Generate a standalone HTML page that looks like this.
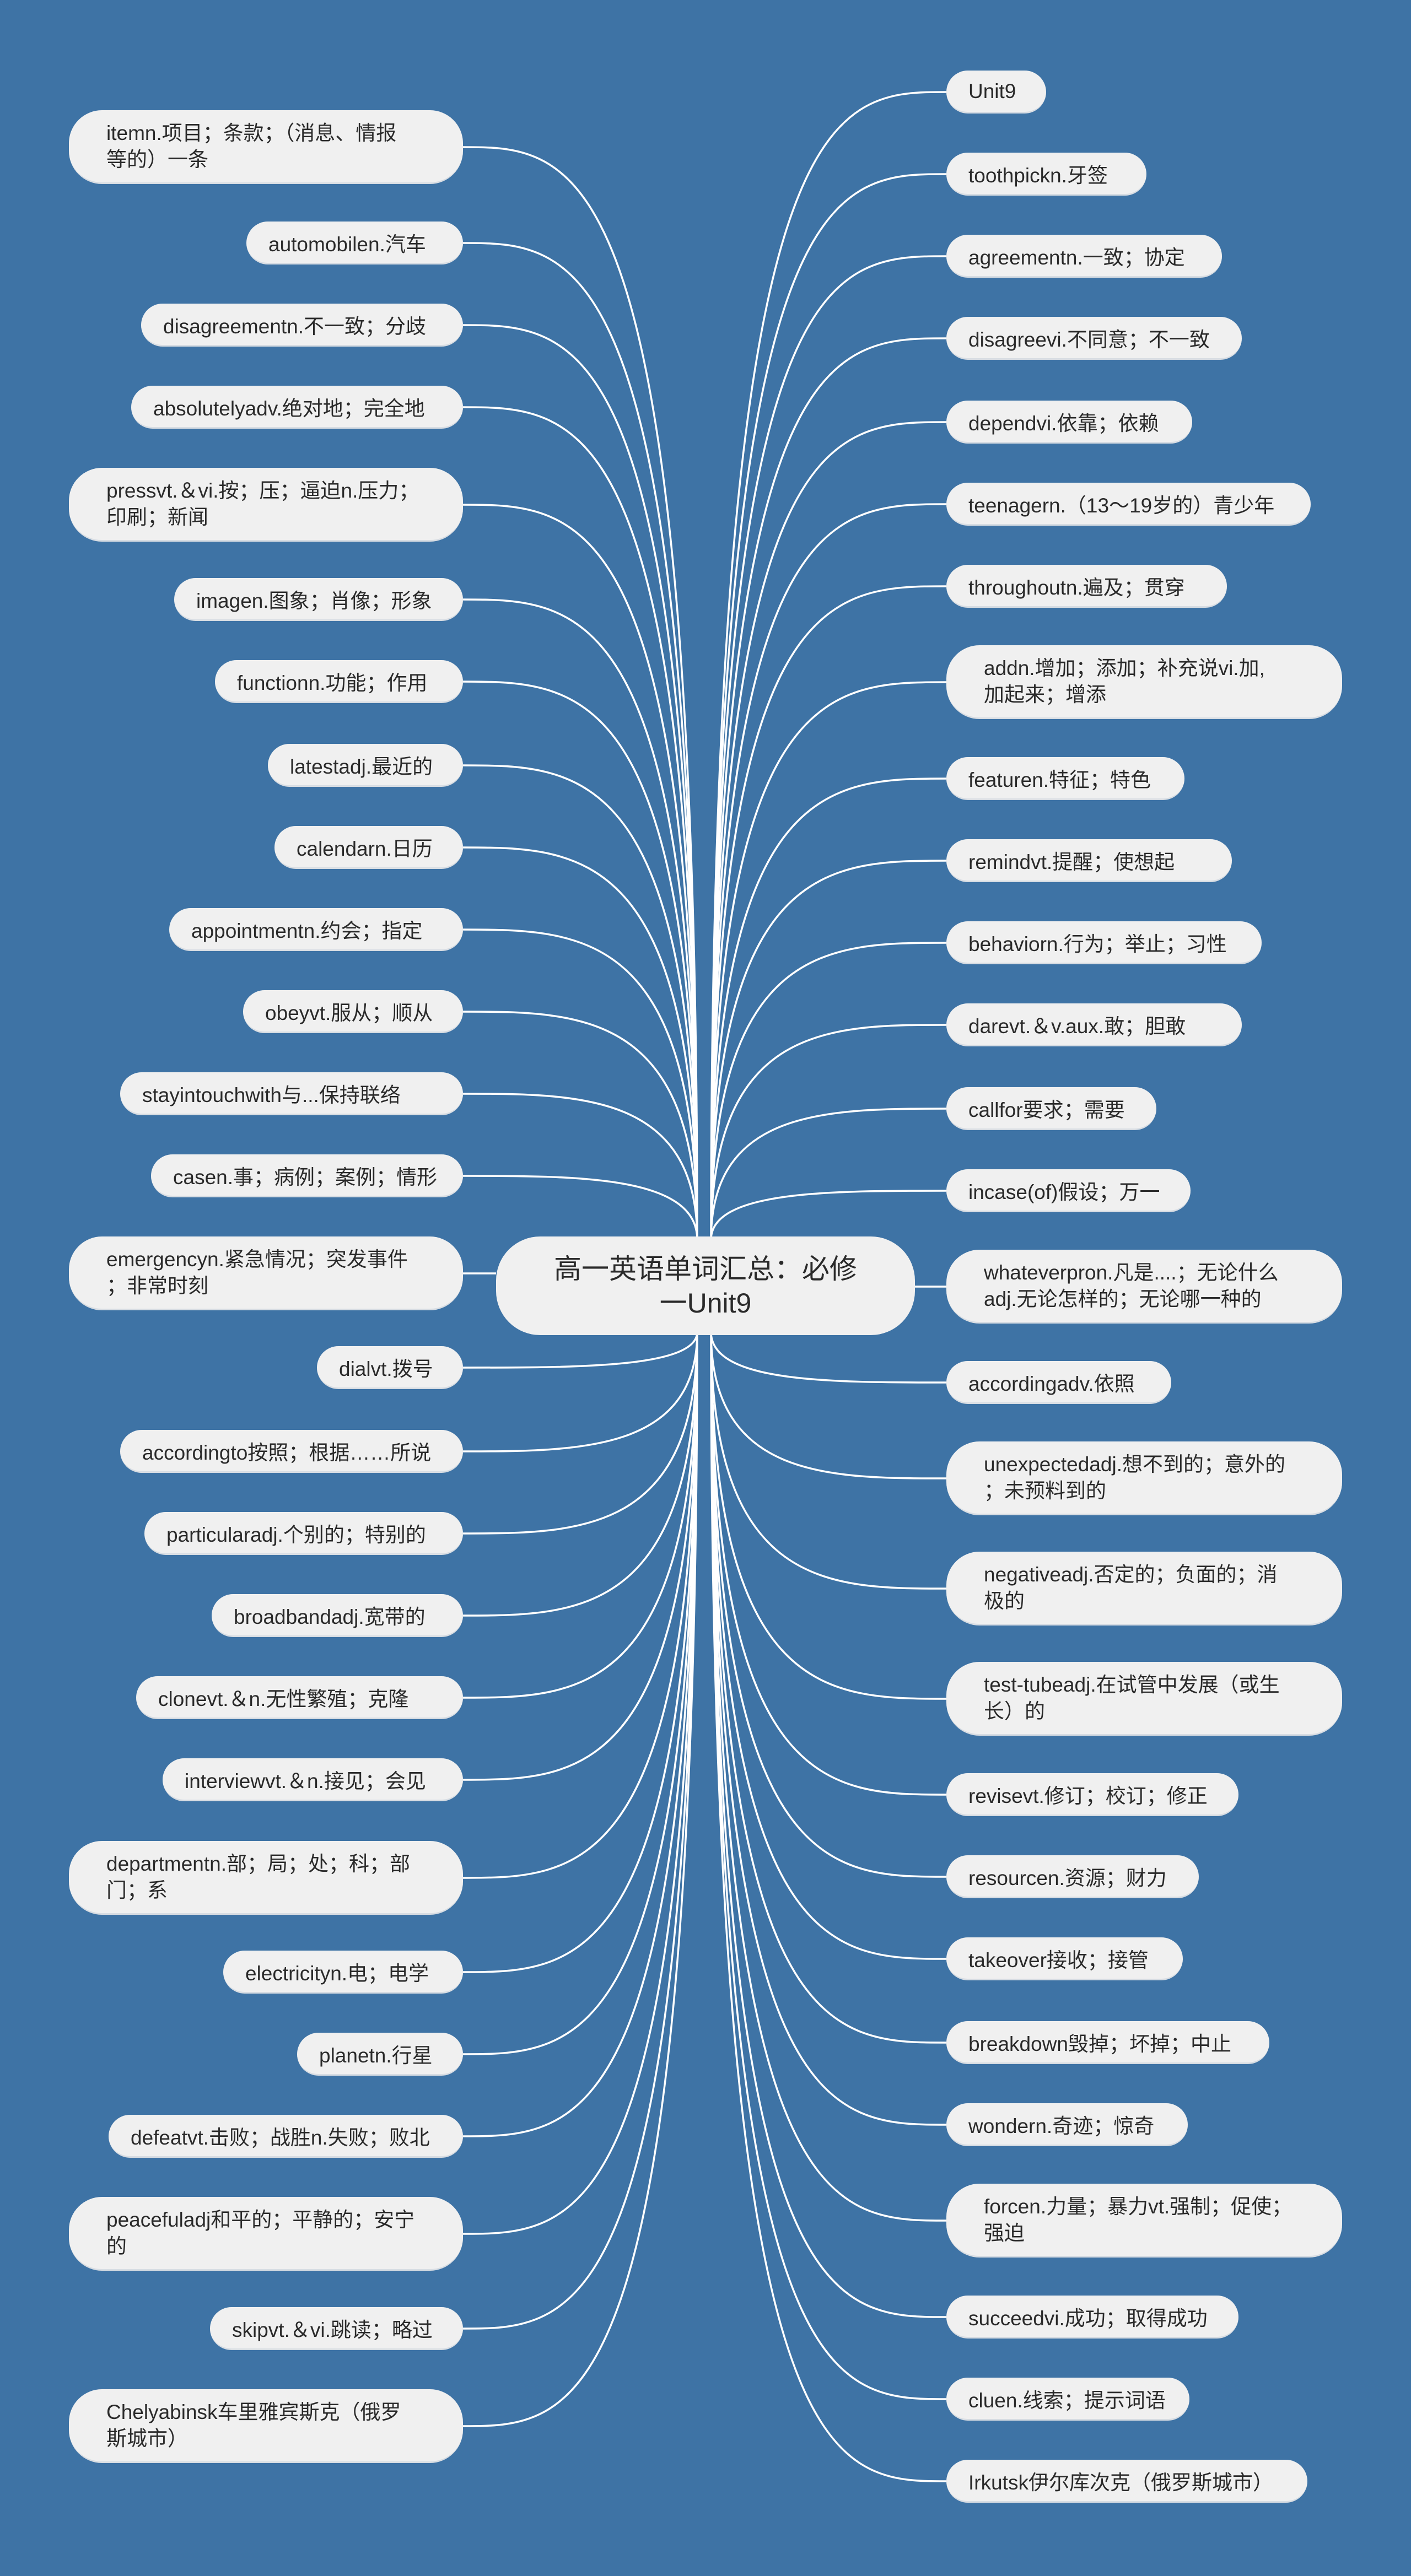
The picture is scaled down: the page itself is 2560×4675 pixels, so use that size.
<!DOCTYPE html>
<html><head><meta charset="utf-8">
<style>
html,body{margin:0;padding:0}
body{width:2560px;height:4675px;background:#3e73a5;position:relative;overflow:hidden;font-family:"Liberation Sans","Noto Sans CJK SC",sans-serif;color:#2a2a2a}
.n{position:absolute;background:#f0f0f0;border-radius:40px;font-size:37px;box-sizing:border-box;display:flex;align-items:center;white-space:nowrap;height:78px;padding:0 36px 0 40px;border-bottom:3px solid #d8dde3}
.t{height:134px;border-radius:60px;line-height:48px;padding:0 30px 0 68px}
.c{position:absolute;left:900px;top:2244px;width:760px;height:179px;background:#f0f0f0;border-radius:80px;font-size:50px;line-height:62px;text-align:center;display:flex;align-items:center;justify-content:center;padding:0 40px;box-sizing:border-box;white-space:nowrap}
svg{position:absolute;left:0;top:0}
</style></head><body>
<svg id="s" width="2560" height="4675"></svg>
<div class="c"><div>高一英语单词汇总：必修<br>一Unit9</div></div>

<div class="n t" style="left:125px;top:200px;width:715px"><div>itemn.项目；条款；（消息、情报<br>等的）一条</div></div>
<div class="n" style="left:447px;top:402px;width:393px">automobilen.汽车</div>
<div class="n" style="left:256px;top:551px;width:584px">disagreementn.不一致；分歧</div>
<div class="n" style="left:238px;top:700px;width:602px">absolutelyadv.绝对地；完全地</div>
<div class="n t" style="left:125px;top:849px;width:715px"><div>pressvt.＆vi.按；压；逼迫n.压力；<br>印刷；新闻</div></div>
<div class="n" style="left:316px;top:1049px;width:524px">imagen.图象；肖像；形象</div>
<div class="n" style="left:390px;top:1198px;width:450px">functionn.功能；作用</div>
<div class="n" style="left:486px;top:1350px;width:354px">latestadj.最近的</div>
<div class="n" style="left:498px;top:1499px;width:342px">calendarn.日历</div>
<div class="n" style="left:307px;top:1648px;width:533px">appointmentn.约会；指定</div>
<div class="n" style="left:441px;top:1797px;width:399px">obeyvt.服从；顺从</div>
<div class="n" style="left:218px;top:1946px;width:622px">stayintouchwith与...保持联络</div>
<div class="n" style="left:274px;top:2095px;width:566px">casen.事；病例；案例；情形</div>
<div class="n t" style="left:125px;top:2244px;width:715px"><div>emergencyn.紧急情况；突发事件<br>；非常时刻</div></div>
<div class="n" style="left:575px;top:2443px;width:265px">dialvt.拨号</div>
<div class="n" style="left:218px;top:2595px;width:622px">accordingto按照；根据……所说</div>
<div class="n" style="left:262px;top:2744px;width:578px">particularadj.个别的；特别的</div>
<div class="n" style="left:384px;top:2893px;width:456px">broadbandadj.宽带的</div>
<div class="n" style="left:247px;top:3042px;width:593px">clonevt.＆n.无性繁殖；克隆</div>
<div class="n" style="left:295px;top:3191px;width:545px">interviewvt.＆n.接见；会见</div>
<div class="n t" style="left:125px;top:3341px;width:715px"><div>departmentn.部；局；处；科；部<br>门；系</div></div>
<div class="n" style="left:405px;top:3540px;width:435px">electricityn.电；电学</div>
<div class="n" style="left:539px;top:3689px;width:301px">planetn.行星</div>
<div class="n" style="left:197px;top:3838px;width:643px">defeatvt.击败；战胜n.失败；败北</div>
<div class="n t" style="left:125px;top:3987px;width:715px"><div>peacefuladj和平的；平静的；安宁<br>的</div></div>
<div class="n" style="left:381px;top:4187px;width:459px">skipvt.＆vi.跳读；略过</div>
<div class="n t" style="left:125px;top:4336px;width:715px"><div>Chelyabinsk车里雅宾斯克（俄罗<br>斯城市）</div></div>

<div class="n" style="left:1717px;top:128px;width:181px">Unit9</div>
<div class="n" style="left:1717px;top:277px;width:363px">toothpickn.牙签</div>
<div class="n" style="left:1717px;top:426px;width:500px">agreementn.一致；协定</div>
<div class="n" style="left:1717px;top:575px;width:536px">disagreevi.不同意；不一致</div>
<div class="n" style="left:1717px;top:727px;width:446px">dependvi.依靠；依赖</div>
<div class="n" style="left:1717px;top:876px;width:661px">teenagern.（13～19岁的）青少年</div>
<div class="n" style="left:1717px;top:1025px;width:509px">throughoutn.遍及；贯穿</div>
<div class="n t" style="left:1717px;top:1171px;width:718px"><div>addn.增加；添加；补充说vi.加,<br>加起来；增添</div></div>
<div class="n" style="left:1717px;top:1374px;width:432px">featuren.特征；特色</div>
<div class="n" style="left:1717px;top:1523px;width:518px">remindvt.提醒；使想起</div>
<div class="n" style="left:1717px;top:1672px;width:572px">behaviorn.行为；举止；习性</div>
<div class="n" style="left:1717px;top:1821px;width:536px">darevt.＆v.aux.敢；胆敢</div>
<div class="n" style="left:1717px;top:1973px;width:381px">callfor要求；需要</div>
<div class="n" style="left:1717px;top:2122px;width:443px">incase(of)假设；万一</div>
<div class="n t" style="left:1717px;top:2268px;width:718px"><div>whateverpron.凡是....；无论什么<br>adj.无论怎样的；无论哪一种的</div></div>
<div class="n" style="left:1717px;top:2470px;width:408px">accordingadv.依照</div>
<div class="n t" style="left:1717px;top:2616px;width:718px"><div>unexpectedadj.想不到的；意外的<br>；未预料到的</div></div>
<div class="n t" style="left:1717px;top:2816px;width:718px"><div>negativeadj.否定的；负面的；消<br>极的</div></div>
<div class="n t" style="left:1717px;top:3016px;width:718px"><div>test-tubeadj.在试管中发展（或生<br>长）的</div></div>
<div class="n" style="left:1717px;top:3218px;width:530px">revisevt.修订；校订；修正</div>
<div class="n" style="left:1717px;top:3367px;width:458px">resourcen.资源；财力</div>
<div class="n" style="left:1717px;top:3516px;width:429px">takeover接收；接管</div>
<div class="n" style="left:1717px;top:3668px;width:586px">breakdown毁掉；坏掉；中止</div>
<div class="n" style="left:1717px;top:3817px;width:438px">wondern.奇迹；惊奇</div>
<div class="n t" style="left:1717px;top:3963px;width:718px"><div>forcen.力量；暴力vt.强制；促使；<br>强迫</div></div>
<div class="n" style="left:1717px;top:4166px;width:530px">succeedvi.成功；取得成功</div>
<div class="n" style="left:1717px;top:4315px;width:441px">cluen.线索；提示词语</div>
<div class="n" style="left:1717px;top:4464px;width:655px">Irkutsk伊尔库次克（俄罗斯城市）</div>

<script>
var L=[267,441,590,739,916,1088,1237,1389,1538,1687,1836,1985,2134,2311,2482,2634,2783,2932,3081,3230,3408,3579,3728,3877,4054,4226,4403];
var R=[167,316,465,614,766,915,1064,1238,1413,1562,1711,1860,2012,2161,2335,2509,2683,2883,3083,3257,3406,3555,3707,3856,4030,4205,4354,4503];
var s=document.getElementById('s'),d='';
function p(sx,sy,ex,ey){
  if(Math.abs(ey-2333)<60){d+='M'+sx+' '+ey+' L'+ex+' '+ey+' ';return;}
  d+='M'+sx+' '+sy+' C'+sx+' '+ey+' '+((sx+ex)/2)+' '+ey+' '+ex+' '+ey+' ';
}
L.forEach(function(y){var top=y<2333;p(1265,top?2250:2417,840,y);});
R.forEach(function(y){var top=y<2333;p(1290,top?2250:2417,1717,y);});
d=d.replace(/M\d+ 2311 L840 2311/,'M900 2311 L840 2311').replace(/M1290 2335 L1717 2335/,'M1660 2335 L1717 2335');
var path=document.createElementNS('http://www.w3.org/2000/svg','path');
path.setAttribute('d',d);path.setAttribute('fill','none');path.setAttribute('stroke','#fff');path.setAttribute('stroke-width','3.5');
s.appendChild(path);
</script>
</body></html>
